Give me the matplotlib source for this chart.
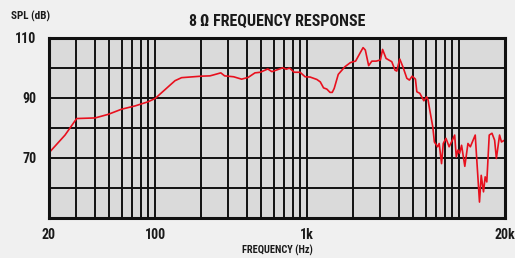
import numpy as np
import matplotlib
matplotlib.use("Agg")
import matplotlib.pyplot as plt
from matplotlib.ticker import FixedLocator, NullFormatter
from matplotlib import font_manager

# Frequency response (Hz, dB SPL)
freq = [20, 25.5, 30.4, 40.2, 49.1, 60, 73.7, 90, 100, 125, 135, 149, 201, 229,
        241, 270, 286, 328, 370, 409, 453, 491, 550, 585, 632, 692, 727, 764,
        821, 897, 968, 1045, 1157, 1218, 1280, 1345, 1412, 1460, 1504, 1600,
        1766, 1920, 2005, 2080, 2220, 2330, 2410, 2535, 2660, 2840, 3030, 3130,
        3300, 3600, 3780, 3880, 4060, 4260, 4520, 4700, 4900, 5150, 5260, 5500,
        5850, 6100, 6240, 6400, 6700, 6860, 7200, 7380, 7650, 7850, 8180, 8580,
        9010, 9330, 9560, 9800, 10050, 10360, 10880, 11410, 11830, 12740, 13050,
        13590, 13950, 14440, 14810, 15180, 15750, 16420, 17090, 17550, 18420,
        18960, 20000]
spl = [71.7, 77.6, 83.1, 83.3, 84.5, 86.2, 87.3, 88.7, 89.8, 94.2, 95.7, 96.7,
       97.2, 97.3, 97.6, 98.3, 97.3, 97.0, 96.2, 96.8, 98.3, 98.5, 99.6, 98.7,
       99.3, 100.0, 99.5, 99.9, 98.5, 98.5, 97.0, 96.9, 96.1, 95.3, 93.3, 92.9,
       91.8, 91.8, 93.1, 97.8, 100.3, 101.7, 102.0, 102.2, 104.8, 106.7, 105.9,
       100.7, 102.2, 102.2, 102.6, 106.1, 103.1, 102.0, 99.2, 98.9, 102.9, 100.3,
       96.5, 95.9, 97.2, 96.2, 92.0, 91.5, 89.0, 90.3, 89.2, 85.9, 80.3, 75.3,
       73.7, 74.8, 68.1, 74.8, 76.5, 73.7, 75.9, 77.6, 70.3, 72.6, 71.5, 74.2,
       67.2, 74.8, 73.7, 77.6, 69.2, 55.3, 64.2, 58.7, 63.7, 62.0, 77.6, 78.2,
       75.9, 69.8, 77.6, 75.3, 76.0]

x_labels = ["20", "100", "1k", "20k"]
x_label_pos = [20, 100, 1000, 20000]
y_label_pos = [70, 90, 110]

# narrow font if there is one, else whatever sans is around
names = {f.name for f in font_manager.fontManager.ttflist}
narrow = [n for n in ['Liberation Sans Narrow', 'Arial Narrow', 'Roboto Condensed',
                      'Open Sans Condensed', 'DejaVu Sans Condensed'] if n in names]
plt.rcParams['font.family'] = narrow + ['DejaVu Sans']
plt.rcParams['font.stretch'] = 'condensed'
plt.rcParams['font.weight'] = 'bold'

fig = plt.figure(figsize=(5.15, 2.58), dpi=100)
fig.patch.set_facecolor('#f0f0f0')
ax = fig.add_axes([49 / 515, 1 - 218 / 258, 456 / 515, (218 - 37.7) / 258])
ax.set_facecolor('#dadada')

ax.set_xscale('log')
ax.set_xlim(20, 20000)
ax.set_ylim(50, 110)

# grid: every 1-9 step per decade, every 10 dB
minor = [m * 10 ** d for d in range(1, 5) for m in range(1, 10)
         if 20 <= m * 10 ** d <= 20000]
ax.xaxis.set_major_locator(FixedLocator(x_label_pos))
ax.xaxis.set_minor_locator(FixedLocator(minor))
ax.xaxis.set_minor_formatter(NullFormatter())
ax.set_xticklabels(x_labels)
ax.yaxis.set_major_locator(FixedLocator(y_label_pos))
ax.yaxis.set_minor_locator(FixedLocator([60, 80, 100]))
ax.grid(True, which='both', color='#111111', linewidth=1.4)
ax.set_axisbelow(True)
ax.tick_params(which='both', length=0, labelsize=10)
ax.tick_params(axis='y', pad=9)
ax.tick_params(axis='x', pad=7)
for lab in ax.get_xticklabels() + ax.get_yticklabels():
    lab.set_color('#1a1a1a')
for s in ax.spines.values():
    s.set_linewidth(2.2)
    s.set_color('#111111')

ax.plot(freq, spl, color='#e8101e', linewidth=1.2)

fig.text(277 / 515, 1 - 250 / 258, "FREQUENCY (Hz)", ha='center', va='center',
         fontsize=7.5, color='#1a1a1a')
fig.text(277 / 515, 1 - 21 / 258, "8\u2009\u03a9 FREQUENCY RESPONSE", ha='center', va='center',
         fontsize=11.5, color='#1a1a1a')
fig.text(30.5 / 515, 1 - 16.5 / 258, "SPL (dB)", ha='center', va='center',
         fontsize=8, color='#1a1a1a')

fig.savefig("out.png", dpi=100, facecolor=fig.get_facecolor())
